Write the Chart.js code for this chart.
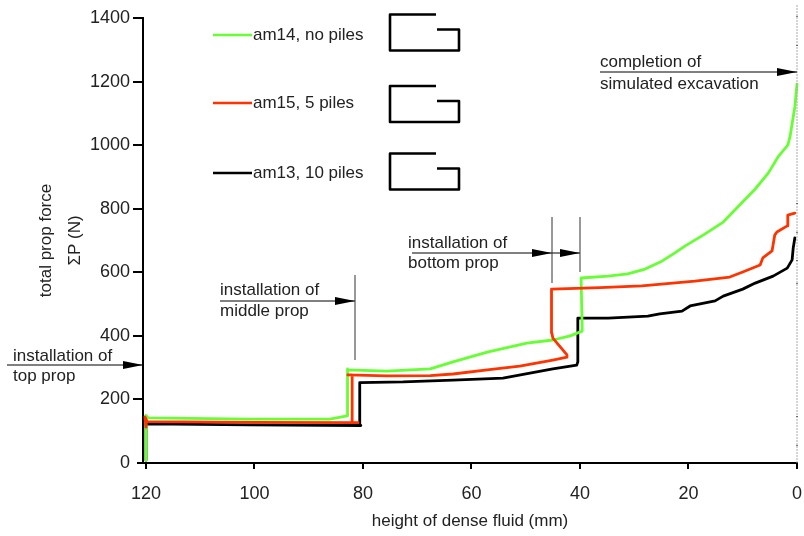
<!DOCTYPE html>
<html>
<head>
<meta charset="utf-8">
<title>Prop force</title>
<script src="https://cdn.jsdelivr.net/npm/chart.js@4/dist/chart.umd.min.js"></script>
<style>
    html, body { margin: 0; padding: 0; background: #fff; }
    canvas { display: block; }
</style>
</head>
<body>
<canvas id="propChart" width="804" height="536"></canvas>
<script>
const xTickValues = [120, 100, 80, 60, 40, 20, 0];
const yTickValues = [0, 200, 400, 600, 800, 1000, 1200, 1400];

const noPilesHeight = [120, 120, 119.6, 100.8, 86.1, 82.9, 82.9, 82.8, 75.6, 67.6, 63.4, 57.1, 49.8, 45, 41.8, 39.6, 39.6, 39.8, 34.8, 31.2, 28, 24.9, 22.5, 20.6, 17.3, 13.6, 11.1, 7.7, 5.3, 3.5, 1.7, 1.3, 0.4, 0];
const noPilesForce = [9, 150, 142, 138, 138, 148, 296, 293, 289, 296, 318, 349, 377, 387, 400, 415, 428, 582, 588, 595, 610, 635, 661, 683, 717, 758, 802, 862, 912, 963, 1000, 1025, 1120, 1192];

const fivePilesHeight = [120, 120.2, 119.8, 100, 80.9, 82, 82, 82.8, 75.6, 67.6, 63.4, 57.1, 51.1, 45, 42.4, 42.4, 45, 45.2, 45.2, 45.3, 36.3, 28.6, 18.8, 12.4, 10, 6.8, 6.3, 4.6, 4.1, 3.7, 1.8, 1.7, 0.4];
const fivePilesForce = [113, 145, 130, 128, 127, 127, 277, 277, 274, 275, 280, 293, 305, 324, 333, 340, 393, 409, 544, 547, 552, 557, 572, 585, 601, 623, 645, 667, 717, 727, 746, 780, 786];

const tenPilesHeight = [120, 120, 100.8, 80.4, 80.6, 80.6, 72.6, 63.4, 54.2, 45, 40.6, 40.4, 40.4, 34.8, 27.5, 25.3, 21.2, 19.7, 15.1, 13.6, 10, 7.7, 4.4, 1.8, 0.9, 0.7, 0.4];
const tenPilesForce = [9, 123, 120, 118, 118, 253, 255, 261, 267, 296, 308, 318, 456, 456, 462, 469, 478, 494, 510, 525, 547, 566, 588, 613, 639, 676, 708];

const seriesNames = ['am14, no piles', 'am15, 5 piles', 'am13, 10 piles'];
const seriesColors = ['#66ff33', '#ff3300', '#000000'];

const FONT = '"Liberation Sans", Arial, sans-serif';
const TEXT_COLOR = '#222222';

function toPoints(xs, ys) {
    return xs.map((x, i) => ({ x: x, y: ys[i] }));
}

function makeSeries(i, xs, ys, order) {
    return {
        label: seriesNames[i],
        data: toPoints(xs, ys),
        borderColor: seriesColors[i],
        borderWidth: 2.8,
        borderCapStyle: 'round',
        borderJoinStyle: 'round',
        pointRadius: 0,
        showLine: true,
        tension: 0,
        clip: false,
        order: order
    };
}

function drawArrow(ctx, x1, x2, y) {
    ctx.strokeStyle = '#000';
    ctx.fillStyle = '#000';
    ctx.lineWidth = 1;
    ctx.beginPath();
    ctx.moveTo(x1, y);
    ctx.lineTo(x2, y);
    ctx.stroke();
    ctx.beginPath();
    ctx.moveTo(x2, y);
    ctx.lineTo(x2 - 20, y - 4);
    ctx.lineTo(x2 - 20, y + 4);
    ctx.closePath();
    ctx.fill();
}

function drawVLine(ctx, x, y1, y2) {
    ctx.strokeStyle = '#333';
    ctx.lineWidth = 1;
    ctx.beginPath();
    ctx.moveTo(x, y1);
    ctx.lineTo(x, y2);
    ctx.stroke();
}

function drawSection(ctx, top) {
    ctx.strokeStyle = '#000';
    ctx.lineWidth = 2.6;
    ctx.lineJoin = 'round';
    ctx.beginPath();
    ctx.moveTo(436, top);
    ctx.lineTo(390, top);
    ctx.lineTo(390, top + 36);
    ctx.lineTo(459, top + 36);
    ctx.lineTo(459, top + 15);
    ctx.lineTo(437, top + 15);
    ctx.stroke();
}

// everything that sits on top of the axes: key, sections, arrows
const notesPlugin = {
    id: 'notes',
    afterDraw(chart) {
        const ctx = chart.ctx;
        const sx = chart.scales.x;
        const sy = chart.scales.y;
        ctx.save();

        // the tick at y = 0 is shorter than the others
        ctx.fillStyle = '#000';
        ctx.fillRect(137, sy.getPixelForValue(0) - 1, 7, 2);

        // dashed line at the end of the excavation
        const endX = sx.getPixelForValue(0);
        ctx.strokeStyle = '#aaa';
        ctx.lineWidth = 1;
        ctx.setLineDash([2, 1]);
        ctx.beginPath();
        ctx.moveTo(endX, 5);
        ctx.lineTo(endX, sy.getPixelForValue(0));
        ctx.stroke();
        ctx.setLineDash([]);
        ctx.fillStyle = '#000';
        [16, 45, 203, 232, 260, 283, 416, 445].forEach(y => ctx.fillRect(endX - 0.5, y, 1, 1));

        ctx.font = '17px ' + FONT;
        ctx.textAlign = 'left';
        ctx.textBaseline = 'alphabetic';

        const keyY = [35, 103, 173];
        const sectionTop = [14.5, 86, 153.5];
        seriesNames.forEach((name, i) => {
            ctx.strokeStyle = seriesColors[i];
            ctx.lineWidth = 2.6;
            ctx.beginPath();
            ctx.moveTo(213, keyY[i]);
            ctx.lineTo(252, keyY[i]);
            ctx.stroke();
            ctx.fillStyle = TEXT_COLOR;
            ctx.fillText(name, 253, keyY[i] + 5);
            drawSection(ctx, sectionTop[i]);
        });

        const notes = [
            ['installation of', 13, 361], ['top prop', 13, 381],
            ['installation of', 220, 295], ['middle prop', 220, 316],
            ['installation of', 408, 248], ['bottom prop', 408, 268],
            ['completion of', 600, 67], ['simulated excavation', 600, 89]
        ];
        ctx.fillStyle = TEXT_COLOR;
        notes.forEach(n => ctx.fillText(n[0], n[1], n[2]));

        drawArrow(ctx, 7, 143, 365);
        drawArrow(ctx, 220, 355, 301);
        drawArrow(ctx, 412, 552, 253);
        drawArrow(ctx, 552, 580, 253);
        drawArrow(ctx, 600, 797, 72);

        drawVLine(ctx, 355, 275, 360);
        drawVLine(ctx, 552, 217, 283);
        drawVLine(ctx, 580, 217, 272);

        ctx.restore();
    }
};

new Chart(document.getElementById('propChart'), {
    type: 'scatter',
    data: {
        datasets: [
            makeSeries(0, noPilesHeight, noPilesForce, 1),
            makeSeries(1, fivePilesHeight, fivePilesForce, 0),
            makeSeries(2, tenPilesHeight, tenPilesForce, 2)
        ]
    },
    options: {
        responsive: false,
        animation: false,
        layout: { padding: { left: 0, right: 7, top: 18, bottom: 0 } },
        plugins: { legend: { display: false }, tooltip: { enabled: false } },
        scales: {
            x: {
                type: 'linear',
                reverse: true,
                min: 0,
                max: 120.55,
                afterBuildTicks: s => { s.ticks = xTickValues.map(v => ({ value: v })); },
                afterFit: s => { s.height = 73; s.paddingLeft = 0; s.paddingRight = 0; },
                ticks: {
                    color: TEXT_COLOR,
                    font: { family: FONT, size: 18 },
                    padding: 14,
                    maxRotation: 0,
                    autoSkip: false,
                    callback: v => String(v)
                },
                grid: { drawOnChartArea: false, color: '#000', lineWidth: 2, tickLength: 6 },
                border: { color: '#000', width: 2 },
                title: {
                    display: true,
                    text: 'height of dense fluid (mm)',
                    color: TEXT_COLOR,
                    font: { family: FONT, size: 17 },
                    padding: { top: 0, bottom: 4 }
                }
            },
            y: {
                type: 'linear',
                min: 0,
                max: 1400,
                afterBuildTicks: s => { s.ticks = yTickValues.map(v => ({ value: v })); },
                afterFit: s => { s.width = 143; s.paddingTop = 0; s.paddingBottom = 0; },
                ticks: {
                    color: TEXT_COLOR,
                    font: { family: FONT, size: 18 },
                    padding: 3,
                    callback: v => String(v)
                },
                grid: {
                    drawOnChartArea: false,
                    color: '#000',
                    tickColor: c => (c.tick && c.tick.value === 0 ? 'rgba(0,0,0,0)' : '#000'),
                    lineWidth: 2,
                    tickLength: 10
                },
                border: { color: '#000', width: 2 },
                title: {
                    display: true,
                    text: ['total prop force', 'ΣP (N)'],
                    color: TEXT_COLOR,
                    font: { family: FONT, size: 17, lineHeight: 1.7 },
                    padding: { top: 32, bottom: 0 }
                }
            }
        }
    },
    plugins: [notesPlugin]
});
</script>
</body>
</html>
